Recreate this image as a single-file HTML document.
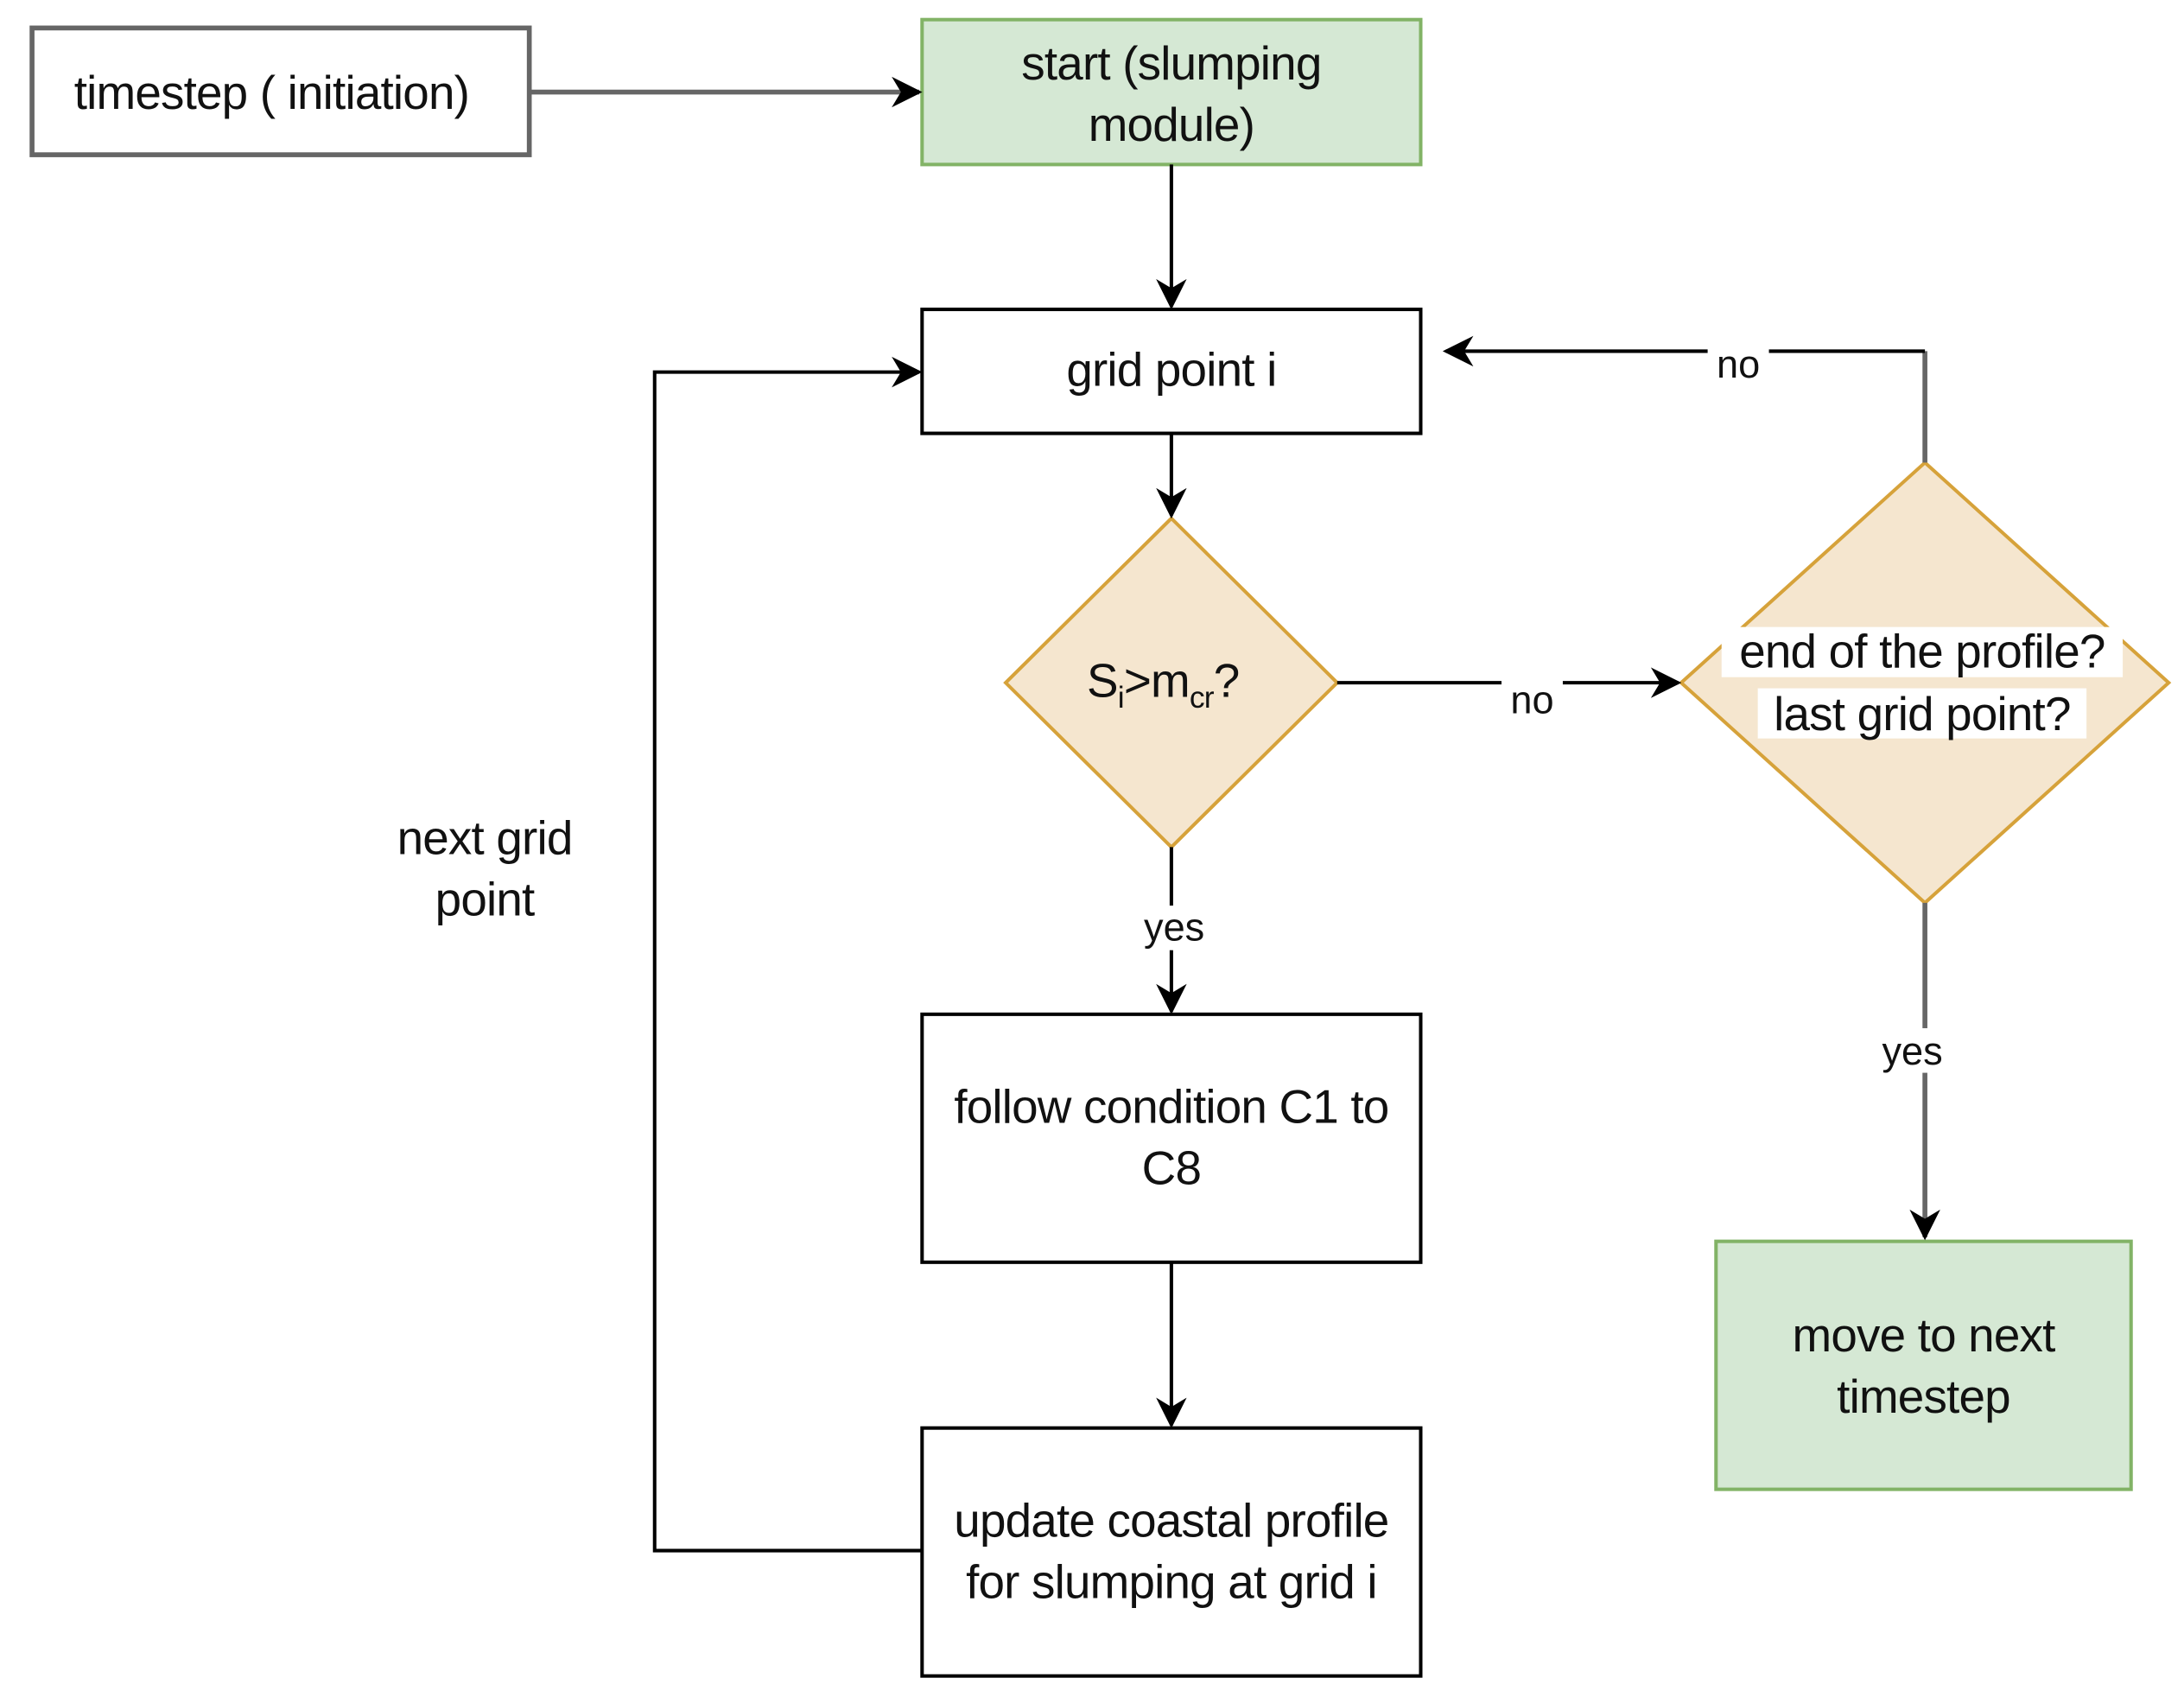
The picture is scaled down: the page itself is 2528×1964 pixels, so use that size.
<!DOCTYPE html>
<html><head><style>html,body{margin:0;padding:0;background:#fff}svg{display:block}</style></head>
<body>
<svg width="2528" height="1964" viewBox="0 0 1568 1218" xmlns="http://www.w3.org/2000/svg" font-family="Liberation Sans, sans-serif">
<defs>
<marker id="a" viewBox="0 0 10 10" refX="9" refY="5" markerWidth="22" markerHeight="22" orient="auto" markerUnits="userSpaceOnUse"><path d="M0,0 L10,5 L0,10 L3,5 z" fill="#000"/></marker>
</defs>
<g fill="none" stroke-width="2.5">
<rect x="23" y="20" width="357" height="91" fill="#fff" stroke="#666" stroke-width="3.5"/>
<rect x="662" y="14" width="358" height="104" fill="#d5e8d4" stroke="#82b366"/>
<rect x="662" y="222" width="358" height="89" fill="#fff" stroke="#000"/>
<polygon points="841,372 960,490 841,608 722,490" fill="#f5e6cf" stroke="#d6a23a"/>
<polygon points="1382,332 1557,490 1382,648 1207,490" fill="#f5e6cf" stroke="#d6a23a"/>
<rect x="662" y="728" width="358" height="178" fill="#fff" stroke="#000"/>
<rect x="662" y="1025" width="358" height="178" fill="#fff" stroke="#000"/>
<rect x="1232" y="891" width="298" height="178" fill="#d5e8d4" stroke="#82b366"/>
</g>
<g fill="none" stroke="#000" stroke-width="2.5">
<path d="M380,66 H660" stroke="#666" stroke-width="3.5" marker-end="url(#a)"/>
<path d="M841,118 V220" marker-end="url(#a)"/>
<path d="M841,311 V370" marker-end="url(#a)"/>
<path d="M960,490 H1205" marker-end="url(#a)"/>
<path d="M1382,332 V252" stroke="#666" stroke-width="3.5"/>
<path d="M1382,252 H1038" marker-end="url(#a)"/>
<path d="M841,608 V726" marker-end="url(#a)"/>
<path d="M841,906 V1023" marker-end="url(#a)"/>
<path d="M662,1113 H470 V267 H660" marker-end="url(#a)"/>
<path d="M1382,648 V888" stroke="#666" stroke-width="3.5" marker-end="url(#a)"/>
</g>
<g font-size="34" fill="#111" text-anchor="middle" letter-spacing="-0.5">
<text x="195" y="78">timestep ( initiation)</text>
<text x="841" y="57">start (slumping</text>
<text x="841" y="101">module)</text>
<text x="841" y="277">grid point i</text>
<text x="835" y="500">S<tspan font-size="22" dy="8">i</tspan><tspan dy="-8">&gt;m</tspan><tspan font-size="22" dy="8">cr</tspan><tspan dy="-8">?</tspan></text>
<rect x="1236" y="450" width="288" height="36" fill="#fff"/>
<rect x="1262" y="494" width="236" height="36" fill="#fff"/>
<text x="1380" y="479">end of the profile?</text>
<text x="1380" y="524">last grid point?</text>
<text x="841" y="806">follow condition C1 to</text>
<text x="841" y="850">C8</text>
<text x="841" y="1103">update coastal profile</text>
<text x="841" y="1147">for slumping at grid i</text>
<text x="1381" y="970">move to next</text>
<text x="1381" y="1014">timestep</text>
<text x="348" y="613">next grid</text>
<text x="348" y="657">point</text>
</g>
<g font-size="28" fill="#111" text-anchor="middle">
<rect x="1078" y="486" width="44" height="30" fill="#fff"/>
<text x="1100" y="512">no</text>
<rect x="1226" y="246" width="44" height="30" fill="#fff"/>
<text x="1248" y="271">no</text>
<rect x="814" y="650" width="58" height="32" fill="#fff"/>
<text x="843" y="675">yes</text>
<rect x="1344" y="738" width="58" height="32" fill="#fff"/>
<text x="1373" y="764">yes</text>
</g>
</svg>
</body></html>
